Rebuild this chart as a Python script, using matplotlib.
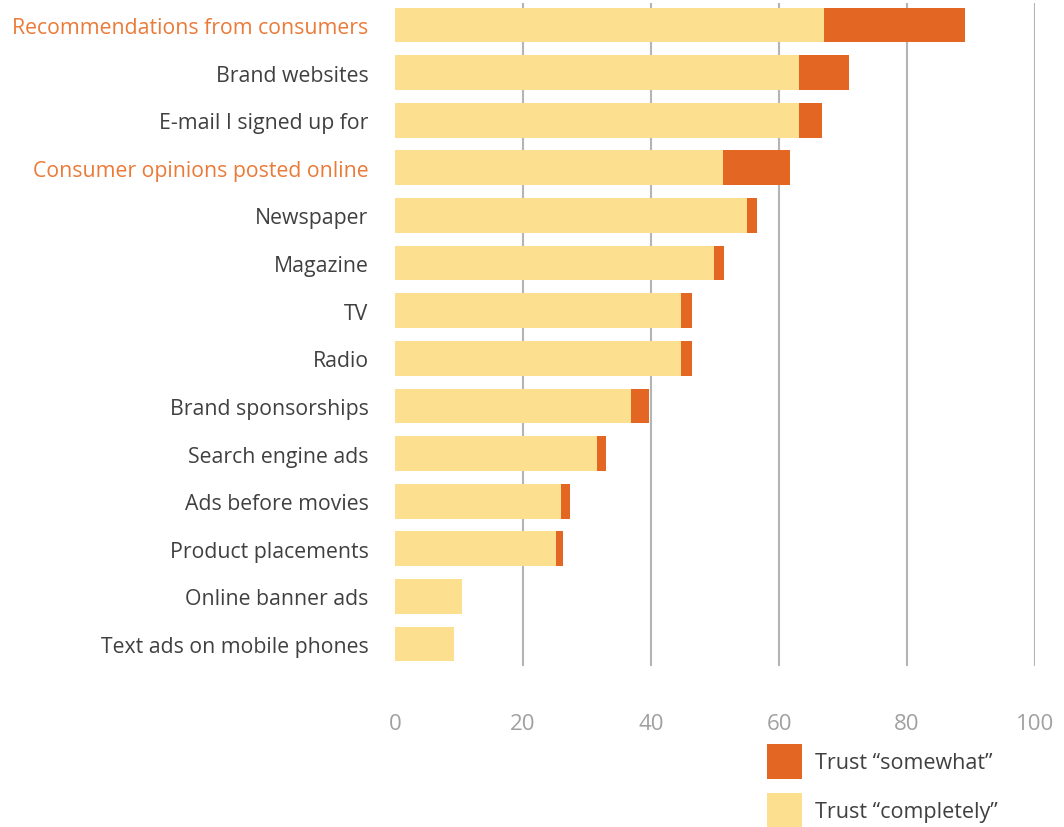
import matplotlib
matplotlib.use("Agg")
import matplotlib.pyplot as plt
import numpy as np

categories = [
    "Recommendations from consumers",
    "Brand websites",
    "E-mail I signed up for",
    "Consumer opinions posted online",
    "Newspaper",
    "Magazine",
    "TV",
    "Radio",
    "Brand sponsorships",
    "Search engine ads",
    "Ads before movies",
    "Product placements",
    "Online banner ads",
    "Text ads on mobile phones",
]
trust_completely = [67.0, 63.1, 63.2, 51.2, 55.0, 49.8, 44.7, 44.7, 36.8, 31.5, 25.9, 25.1, 10.4, 9.2]
trust_somewhat = [22.0, 7.8, 3.5, 10.5, 1.5, 1.6, 1.7, 1.7, 2.9, 1.5, 1.4, 1.2, 0.0, 0.0]
highlighted = ["Recommendations from consumers", "Consumer opinions posted online"]
x_ticks = [0, 20, 40, 60, 80, 100]

YELLOW = "#FCE08F"
ORANGE = "#E36622"
LABEL_ORANGE = "#EB7A38"
TEXT = "#404040"
GRID = "#B4B4B4"

plt.rcParams['font.family'] = ['Open Sans', 'DejaVu Sans']

fig = plt.figure(figsize=(10.64, 8.28), dpi=100)
ax = fig.add_axes([395/1064, 1-667/828, (1035-395)/1064, (667-4)/828])

y = np.arange(len(categories))
h = 0.73
for g in x_ticks[1:]:
    ax.axvline(g, color=GRID, lw=1.5, zorder=0)
b1 = ax.barh(y, trust_completely, height=h, color=YELLOW, zorder=2, label="Trust \u201ccompletely\u201d")
b2 = ax.barh(y, trust_somewhat, left=trust_completely, height=h, color=ORANGE, zorder=2, label="Trust \u201csomewhat\u201d")

ax.set_xlim(0, 100)
ax.set_ylim(len(categories) - 1 + 0.46, -0.46)
ax.set_yticks(y)
ax.set_yticklabels(categories, fontsize=15.3, color=TEXT)
for lbl in ax.get_yticklabels():
    if lbl.get_text() in highlighted:
        lbl.set_color(LABEL_ORANGE)
ax.set_xticks(x_ticks)
ax.set_xticklabels([str(t) for t in x_ticks], fontsize=16, color="#A0A0A0")
ax.tick_params(axis='y', length=0, pad=19)
ax.tick_params(axis='x', length=0, pad=34)
for s in ax.spines.values():
    s.set_visible(False)

fig.legend(handles=[b2, b1], loc='upper left',
           bbox_to_anchor=(767/1064, 1-745/828), frameon=False,
           borderpad=0, borderaxespad=0, fontsize=15.5,
           handlelength=1.62, handleheight=2.14, labelspacing=0.62,
           handletextpad=0.6, labelcolor=TEXT)

fig.savefig("out.png", dpi=100)
